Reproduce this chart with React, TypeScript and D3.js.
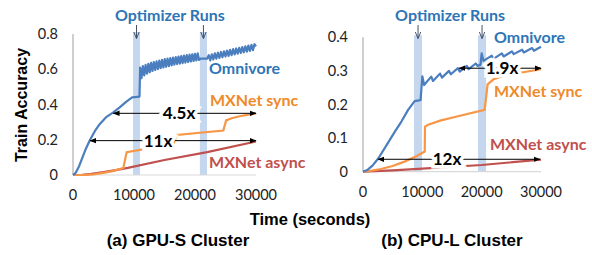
import React from "react";
import * as d3 from "d3";

type Pt = [number, number];

const xTicks = [0, 10000, 20000, 30000];
const yTicksA = [0, 0.2, 0.4, 0.6, 0.8];
const yTicksB = [0, 0.1, 0.2, 0.3, 0.4];

// (a) GPU-S cluster
const omnivoreA: Pt[] = [
  [0, 0], [400, 0.01], [1000, 0.05], [2000, 0.14], [2800, 0.2], [3600, 0.25],
  [4400, 0.29], [5500, 0.33], [6600, 0.355], [7700, 0.385], [8700, 0.415],
  [9700, 0.44], [10900, 0.445],
  [11000, 0.61], [11225, 0.55], [11450, 0.618], [11675, 0.565], [11900, 0.625],
  [12125, 0.575], [12350, 0.631], [12575, 0.583], [12800, 0.636], [13025, 0.59],
  [13250, 0.641], [13475, 0.596], [13700, 0.645], [13925, 0.601], [14150, 0.649],
  [14375, 0.606], [14600, 0.653], [14825, 0.61], [15050, 0.657], [15275, 0.614],
  [15500, 0.66], [15725, 0.618], [15950, 0.663], [16175, 0.622], [16400, 0.666],
  [16625, 0.626], [16850, 0.669], [17075, 0.629], [17300, 0.672], [17525, 0.632],
  [17750, 0.675], [17975, 0.635], [18200, 0.678], [18425, 0.638], [18650, 0.68],
  [18875, 0.641], [19100, 0.683], [19325, 0.644], [19550, 0.685], [19775, 0.647],
  [20000, 0.688], [20225, 0.65], [20450, 0.69], [20675, 0.653],
  [20900, 0.66], [22000, 0.66],
  [22250, 0.68], [22500, 0.65], [22750, 0.685], [23000, 0.655], [23250, 0.69],
  [23500, 0.66], [23750, 0.694], [24000, 0.664], [24250, 0.698], [24500, 0.668],
  [24750, 0.702], [25000, 0.672], [25250, 0.706], [25500, 0.676], [25750, 0.71],
  [26000, 0.68], [26250, 0.714], [26500, 0.684], [26750, 0.718], [27000, 0.688],
  [27250, 0.722], [27500, 0.692], [27750, 0.726], [28000, 0.696], [28250, 0.73],
  [28500, 0.7], [28750, 0.734], [29000, 0.704], [29250, 0.738], [29500, 0.708],
  [29750, 0.742], [30000, 0.73],
];
const syncA: Pt[] = [
  [0, 0], [2000, 0.001], [3300, 0.004], [5000, 0.012], [6500, 0.022], [8250, 0.04],
  [8800, 0.13], [16450, 0.176], [17000, 0.227], [24650, 0.252], [25100, 0.31],
  [26000, 0.322], [27500, 0.335], [30000, 0.35],
];
const asyncA: Pt[] = [
  [0, 0], [1500, 0.001], [3000, 0.006], [5000, 0.016], [7000, 0.028], [9000, 0.04],
  [15000, 0.085], [22000, 0.13], [30000, 0.19],
];
const bandsA: Pt[] = [[9840, 10980], [20800, 21970]];

// (b) CPU-L cluster
const omnivoreB: Pt[] = [
  [0, 0], [800, 0.006], [1600, 0.018], [2600, 0.04], [4000, 0.08], [5400, 0.12],
  [6500, 0.15], [7600, 0.184], [8700, 0.21], [9700, 0.213], [10000, 0.284],
  [10300, 0.258], [11500, 0.283], [11800, 0.27], [13000, 0.292], [13300, 0.28],
  [14500, 0.3], [14800, 0.29], [16000, 0.308], [16300, 0.298], [17500, 0.315],
  [17800, 0.305], [19000, 0.322], [19300, 0.315], [19800, 0.318], [20000, 0.352],
  [20300, 0.33], [21700, 0.345], [22000, 0.336], [23400, 0.352], [23700, 0.343],
  [25100, 0.358], [25400, 0.35], [26800, 0.363], [27100, 0.355], [28500, 0.368],
  [28800, 0.36], [30000, 0.372],
];
const syncB: Pt[] = [
  [0, 0], [1500, 0.003], [3000, 0.008], [5000, 0.017], [7000, 0.03], [9000, 0.046],
  [10400, 0.06], [10450, 0.134], [11000, 0.14], [13000, 0.152], [16000, 0.165],
  [20500, 0.184], [21000, 0.26], [22000, 0.275], [23500, 0.284], [26000, 0.293],
  [30000, 0.305],
];
const asyncB: Pt[] = [
  [0, 0], [5000, 0.004], [10000, 0.009], [20000, 0.02], [30000, 0.036],
];
const bandsB: Pt[] = [[8600, 9950], [19390, 20740]];

const BLUE = "#4A7EBF";
const BLUE_TXT = "#2E75B6";
const ORANGE = "#F79646";
const ORANGE_TXT = "#EE8A2A";
const RED = "#C0504D";
const BAND = "#C5D7EE";
const LABEL_FONT = "Lato, 'Open Sans', sans-serif";
const TITLE_FONT = "'Liberation Sans', Arial, sans-serif";

interface Speedup { text: string; v: number; t0: number; t1: number; tx: number }
interface SeriesLabel { text: string; color: string; t: number; v: number }

interface PanelProps {
  left: number; right: number; bottom: number; top: number; yMax: number;
  yTicks: number[];
  omnivore: Pt[]; sync: Pt[]; async: Pt[];
  bands: Pt[];
  labels: SeriesLabel[];
  speedups: Speedup[];
  caption: string;
  captionX: number;
}

const Panel: React.FC<PanelProps> = (p) => {
  const x = d3.scaleLinear().domain([0, 30000]).range([p.left, p.right]);
  const y = d3.scaleLinear().domain([0, p.yMax]).range([p.bottom, p.top]);
  const line = d3.line<Pt>().x((d) => x(d[0])).y((d) => y(d[1]));
  const fmt = (v: number) => (v === 0 ? "0" : d3.format(".1f")(v));
  const bandCenters = p.bands.map((b) => x((b[0] + b[1]) / 2));
  const titleX = (bandCenters[0] + bandCenters[1]) / 2;
  return (
    <g>
      {p.bands.map((b, i) => (
        <rect key={i} x={x(b[0])} y={p.top - 2} width={x(b[1]) - x(b[0])}
          height={p.bottom - p.top + 2} fill={BAND} />
      ))}
      <line x1={p.left} x2={p.left} y1={p.top} y2={p.bottom} stroke="#BFBFBF" strokeWidth={1.5} />
      <line x1={p.left} x2={p.right} y1={p.bottom} y2={p.bottom} stroke="#D9D9D9" strokeWidth={1.2} />
      {p.yTicks.map((t) => (
        <text key={t} x={p.left - 15} y={y(t)} dy="0.35em" textAnchor="end"
          fontFamily={LABEL_FONT} fontSize={14.5} fill="#222">{fmt(t)}</text>
      ))}
      {xTicks.map((t) => (
        <text key={t} x={x(t)} y={p.bottom + 25} textAnchor="middle"
          fontFamily={LABEL_FONT} fontSize={14.5} fill="#222">{t}</text>
      ))}
      <path d={line(p.async) || ""} fill="none" stroke={RED} strokeWidth={2.2} />
      <path d={line(p.sync) || ""} fill="none" stroke={ORANGE} strokeWidth={2.2} />
      <path d={line(p.omnivore) || ""} fill="none" stroke={BLUE} strokeWidth={2.2} strokeLinejoin="round" />
      {p.speedups.map((s, i) => (
        <g key={i}>
          <line x1={x(s.t0)} x2={x(s.t1)} y1={y(s.v)} y2={y(s.v)} stroke="#000"
            strokeWidth={1} markerStart="url(#ah)" markerEnd="url(#ah)" />
          <text x={x(s.tx)} y={y(s.v)} dy="0.36em" textAnchor="middle" fontFamily={LABEL_FONT}
            fontWeight={700} fontSize={17} fill="#000" stroke="#fff" strokeWidth={7}
            paintOrder="stroke">{s.text}</text>
        </g>
      ))}
      {p.labels.map((l, i) => (
        <text key={i} x={x(l.t)} y={y(l.v)} fontFamily={LABEL_FONT} fontWeight={700}
          fontSize={16} fill={l.color}>{l.text}</text>
      ))}
      <text x={titleX} y={21} textAnchor="middle" fontFamily={LABEL_FONT} fontWeight={700}
        fontSize={16} fill={BLUE_TXT}>Optimizer Runs</text>
      {bandCenters.map((cx, i) => (
        <line key={i} x1={cx} x2={cx} y1={25} y2={38} stroke="#44546A" strokeWidth={1}
          markerEnd="url(#dn)" />
      ))}
      <text x={p.captionX} y={246} textAnchor="middle" fontFamily={TITLE_FONT}
        fontWeight={700} fontSize={17} fill="#000">{p.caption}</text>
    </g>
  );
};

const App: React.FC = () => (
  <svg width={592} height={255} style={{ position: "absolute", left: 0, top: 0, background: "#fff" }}>
    <defs>
      <marker id="ah" viewBox="0 0 10 10" refX={9} refY={5} markerWidth={7} markerHeight={7}
        orient="auto-start-reverse" markerUnits="userSpaceOnUse">
        <path d="M0,1 L10,5 L0,9 z" fill="#000" />
      </marker>
      <marker id="dn" viewBox="0 0 10 10" refX={9} refY={5} markerWidth={7} markerHeight={7}
        orient="auto" markerUnits="userSpaceOnUse">
        <path d="M0,1 L10,5 L0,9" fill="none" stroke="#44546A" strokeWidth={1.4} />
      </marker>
    </defs>
    <Panel left={73} right={256} bottom={175} top={34} yMax={0.8} yTicks={yTicksA}
      omnivore={omnivoreA} sync={syncA} async={asyncA} bands={bandsA}
      labels={[
        { text: "Omnivore", color: BLUE_TXT, t: 22300, v: 0.573 },
        { text: "MXNet sync", color: ORANGE_TXT, t: 22460, v: 0.391 },
        { text: "MXNet async", color: RED, t: 22300, v: 0.04 },
      ]}
      speedups={[
        { text: "4.5x", v: 0.35, t0: 6600, t1: 30000, tx: 17380 },
        { text: "11x", v: 0.195, t0: 2800, t1: 30000, tx: 13930 },
      ]}
      caption="(a) GPU-S Cluster" captionX={178} />
    <Panel left={363} right={541} bottom={171.7} top={37.3} yMax={0.4} yTicks={yTicksB}
      omnivore={omnivoreB} sync={syncB} async={asyncB} bands={bandsB}
      labels={[
        { text: "Omnivore", color: BLUE_TXT, t: 22080, v: 0.383 },
        { text: "MXNet sync", color: ORANGE_TXT, t: 22080, v: 0.222 },
        { text: "MXNet async", color: RED, t: 21400, v: 0.065 },
      ]}
      speedups={[
        { text: "1.9x", v: 0.308, t0: 16200, t1: 30000, tx: 23430 },
        { text: "12x", v: 0.037, t0: 2550, t1: 29800, tx: 14160 },
      ]}
      caption="(b) CPU-L Cluster" captionX={452} />
    <text transform="translate(27,105) rotate(-90)" textAnchor="middle" fontFamily={TITLE_FONT}
      fontWeight={700} fontSize={16} fill="#000">Train Accuracy</text>
    <text x={310} y={225} textAnchor="middle" fontFamily={TITLE_FONT} fontWeight={700}
      fontSize={16.5} fill="#000">Time (seconds)</text>
  </svg>
);

export default App;
